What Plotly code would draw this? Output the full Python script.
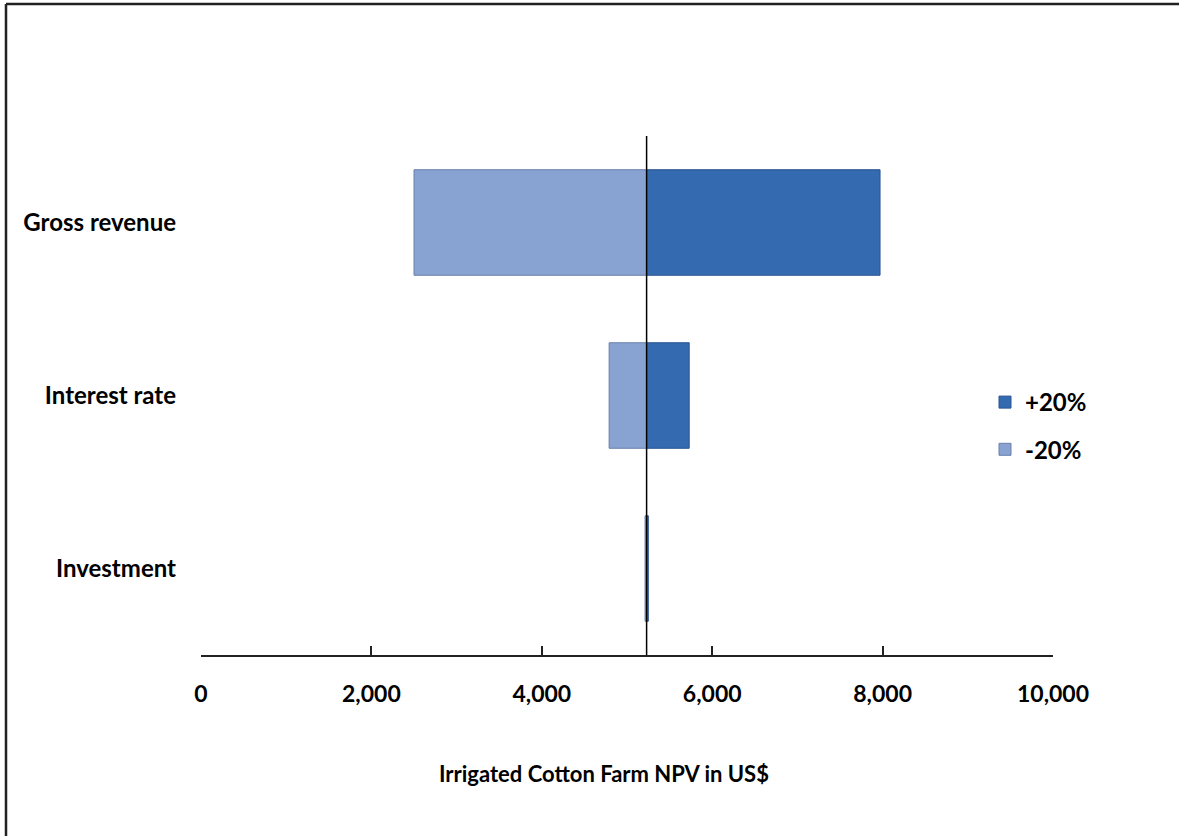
import plotly.graph_objects as go

# Tornado chart: NPV sensitivity of an irrigated cotton farm to +/-20% changes
categories = ["Investment", "Interest rate", "Gross revenue"]
base_npv = 5230
npv_plus20 = [5250, 5730, 7970]
npv_minus20 = [5212, 4790, 2500]
x_ticks = [0, 2000, 4000, 6000, 8000, 10000]

FONT = "Lato"
W, H = 1179, 836
L, R, T, B = 201, 126, 136, 181
pw = W - L - R
ph = H - T - B


def px_x(x):
    return (x - L) / pw


def px_y(y):
    return (T + ph - y) / ph


fig = go.Figure()
fig.add_trace(go.Bar(
    y=categories, x=[v - base_npv for v in npv_plus20], base=base_npv,
    orientation="h", name="+20%", legendgroup="p",
    marker=dict(color="rgb(52,106,176)", line=dict(color="rgb(40,85,145)", width=1)),
))
fig.add_trace(go.Bar(
    y=categories, x=[v - base_npv for v in npv_minus20], base=base_npv,
    orientation="h", name="-20%", legendgroup="m",
    marker=dict(color="rgb(136,162,210)", line=dict(color="rgb(105,128,170)", width=1)),
))

# baseline NPV marker
fig.add_shape(type="line", xref="x", yref="paper", x0=base_npv, x1=base_npv,
              y0=0, y1=1, line=dict(color="black", width=1.5), layer="above")

# outer frame, open on the right and bottom edges
fig.add_shape(type="line", xref="paper", yref="paper",
              x0=px_x(6), x1=px_x(W), y0=px_y(4), y1=px_y(4),
              line=dict(color="#222", width=2.5))
fig.add_shape(type="line", xref="paper", yref="paper",
              x0=px_x(6), x1=px_x(6), y0=px_y(4), y1=px_y(H),
              line=dict(color="#222", width=2.5))

fig.add_annotation(text="<b>Irrigated Cotton Farm NPV in US$</b>", xref="paper", yref="paper",
                   x=px_x(604), y=px_y(773), showarrow=False,
                   font=dict(family=FONT, size=22, color="black"),
                   xanchor="center", yanchor="middle")

fig.update_layout(
    width=W, height=H,
    margin=dict(l=L, r=R, t=T, b=B),
    paper_bgcolor="white", plot_bgcolor="white",
    barmode="overlay", bargap=0.39,
    font=dict(family=FONT, size=20, color="black"),
    showlegend=True,
    legend=dict(x=px_x(985), y=px_y(380), xanchor="left", yanchor="top",
                traceorder="grouped", tracegroupgap=13,
                font=dict(family=FONT, size=24, color="black", weight="bold"),
                bgcolor="rgba(0,0,0,0)"),
    xaxis=dict(range=[0, 10000], tickvals=x_ticks,
               ticktext=[f"<b>{v:,}</b>" for v in x_ticks],
               showgrid=False, zeroline=False, showline=True, linecolor="#222", linewidth=1.5,
               ticks="inside", ticklen=9, tickwidth=1.5, tickcolor="#222",
               ticklabelstandoff=18, tickfont=dict(family=FONT, size=23)),
    yaxis=dict(showgrid=False, zeroline=False, showline=False, ticks="",
               ticktext=[f"<b>{c}</b>" for c in categories], tickvals=categories,
               ticklabelstandoff=24, tickfont=dict(family=FONT, size=24)),
)

fig.write_html("out.html", config={"displayModeBar": False})
